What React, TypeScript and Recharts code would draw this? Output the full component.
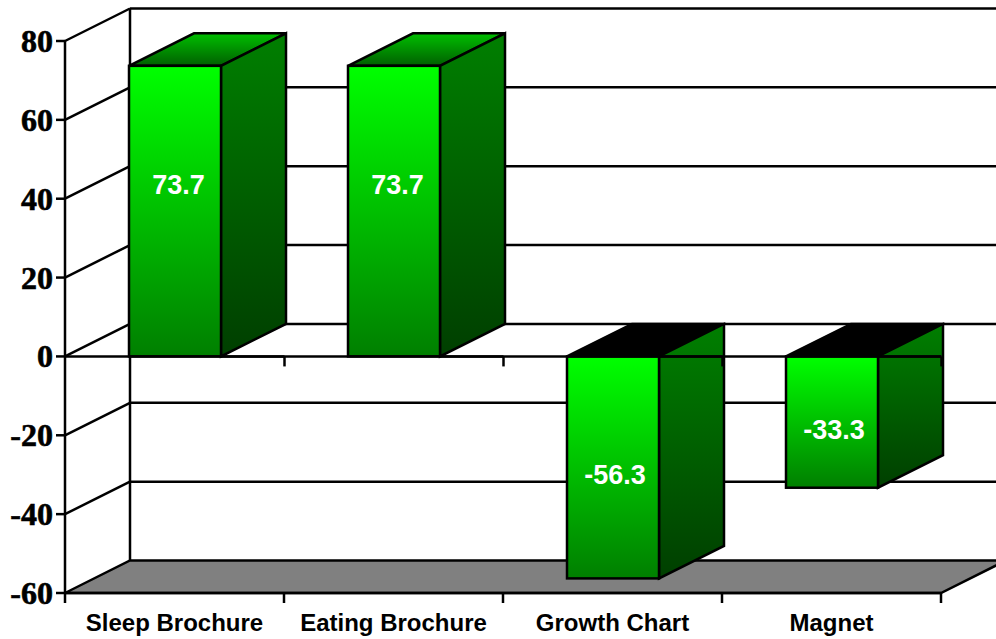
import { Bar, BarChart, CartesianGrid, XAxis, YAxis } from "recharts";

const categories = ["Sleep Brochure", "Eating Brochure", "Growth Chart", "Magnet"];
const percentChange = [73.7, 73.7, -56.3, -33.3];
const yTicks = [-60, -40, -20, 0, 20, 40, 60, 80];

const chartData = categories.map((name, i) => ({ name, value: percentChange[i] }));

const CHART_W = 996;
const CHART_H = 639;
const PLOT_LEFT = 65;
const PLOT_TOP = 41;
const PLOT_W = 876;
const PLOT_H = 552;
const BAND = PLOT_W / categories.length;
const DEPTH_X = 65;
const DEPTH_Y = 32.5;
const LINE = 2.5;

// back wall and floor, drawn from the grid so they stay behind the bars
function wallLine({ x1, y1, x2 }: any) {
  const backX = x1 + DEPTH_X;
  const backY = y1 - DEPTH_Y;
  if (y1 >= PLOT_TOP + PLOT_H - 1) {
    return (
      <g key="floor">
        <polygon
          points={`${x1},${y1} ${backX},${backY} ${x2 + DEPTH_X},${backY} ${x2},${y1}`}
          fill="#808080"
          stroke="#000"
          strokeWidth={LINE}
        />
        <line x1={backX} y1={PLOT_TOP - DEPTH_Y} x2={backX} y2={backY} stroke="#000" strokeWidth={LINE} />
      </g>
    );
  }
  return (
    <g key={y1}>
      <line x1={x1} y1={y1} x2={backX} y2={backY} stroke="#000" strokeWidth={LINE} />
      <line x1={backX} y1={backY} x2={CHART_W} y2={backY} stroke="#000" strokeWidth={LINE} />
    </g>
  );
}

function YTick({ x, y, payload }: any) {
  const v = payload.value;
  return (
    <g>
      {v === 0 && (
        <line x1={PLOT_LEFT} y1={y} x2={PLOT_LEFT + PLOT_W} y2={y} stroke="#000" strokeWidth={LINE} />
      )}
      <text
        x={x}
        y={y + 11}
        textAnchor="end"
        fontFamily="'Liberation Serif', serif"
        fontWeight="bold"
        fontSize={32}
        fill="#000"
        stroke="#000"
        strokeWidth={0.6}
      >
        {v}
      </text>
    </g>
  );
}

function XTick({ x, y, payload, index }: any) {
  const bottom = y - 9;
  const left = x - BAND / 2;
  const right = x + BAND / 2;
  return (
    <g>
      {index === 0 && <line x1={left} y1={bottom} x2={left} y2={bottom + 10} stroke="#000" strokeWidth={LINE} />}
      <line x1={right} y1={bottom} x2={right} y2={bottom + 10} stroke="#000" strokeWidth={LINE} />
      <text
        x={x}
        y={bottom + 38}
        textAnchor="middle"
        fontFamily="'Liberation Sans', sans-serif"
        fontWeight="bold"
        fontSize={24}
        fill="#000"
      >
        {payload.value}
      </text>
    </g>
  );
}

function Box3D({ x, y, width, height, value }: any) {
  const top = Math.min(y, y + height);
  const bottom = Math.max(y, y + height);
  const right = x + width;
  const negative = value < 0;
  const zero = negative ? top : bottom;
  const bandRight = x + width / 2 + BAND / 2;
  const mid = (top + bottom) / 2;
  return (
    <g>
      <polygon
        points={`${x},${top} ${x + DEPTH_X},${top - DEPTH_Y} ${right + DEPTH_X},${top - DEPTH_Y} ${right},${top}`}
        fill={negative ? "#000" : "url(#topFace)"}
        stroke="#000"
        strokeWidth={LINE}
      />
      <polygon
        points={`${right},${top} ${right + DEPTH_X},${top - DEPTH_Y} ${right + DEPTH_X},${bottom - DEPTH_Y} ${right},${bottom}`}
        fill="url(#sideFace)"
        stroke="#000"
        strokeWidth={LINE}
      />
      <line x1={right} y1={zero} x2={bandRight} y2={zero} stroke="#000" strokeWidth={LINE} />
      <line x1={bandRight} y1={zero} x2={bandRight} y2={zero + 10} stroke="#000" strokeWidth={LINE} />
      <rect x={x} y={top} width={width} height={bottom - top} fill="url(#frontFace)" stroke="#000" strokeWidth={LINE} />
      <text
        x={x + width / 2 + (negative ? 2 : 3.5)}
        y={mid + (negative ? 8 : -26) + 9}
        textAnchor="middle"
        fontFamily="'Liberation Sans', sans-serif"
        fontWeight="bold"
        fontSize={27}
        fill="#fff"
      >
        {value}
      </text>
    </g>
  );
}

export default function App() {
  return (
    <div style={{ position: "absolute", left: 0, top: 0, width: CHART_W, height: CHART_H, background: "#fff" }}>
      <BarChart
        width={CHART_W}
        height={CHART_H}
        data={chartData}
        margin={{ top: PLOT_TOP, right: CHART_W - PLOT_LEFT - PLOT_W, bottom: 0, left: 0 }}
        barCategoryGap={0}
        style={{ overflow: "hidden" }}
      >
        <defs>
          <linearGradient id="frontFace" x1="0" y1="0" x2="0" y2="1">
            <stop offset="0%" stopColor="#00ff00" />
            <stop offset="100%" stopColor="#007f00" />
          </linearGradient>
          <linearGradient id="sideFace" x1="0" y1="0" x2="0" y2="1">
            <stop offset="0%" stopColor="#007f00" />
            <stop offset="100%" stopColor="#003f00" />
          </linearGradient>
          <linearGradient id="topFace" x1="0" y1="0" x2="0" y2="1">
            <stop offset="0%" stopColor="#00bf00" />
            <stop offset="100%" stopColor="#005f00" />
          </linearGradient>
        </defs>
        <CartesianGrid vertical={false} horizontal={wallLine} horizontalValues={yTicks} />
        <YAxis
          width={PLOT_LEFT}
          domain={[-60, 80]}
          ticks={yTicks}
          interval={0}
          tick={<YTick />}
          tickSize={9}
          tickMargin={3}
          axisLine={{ stroke: "#000", strokeWidth: LINE }}
          tickLine={{ stroke: "#000", strokeWidth: LINE }}
        />
        <XAxis
          dataKey="name"
          interval={0}
          tick={<XTick />}
          tickSize={9}
          tickLine={false}
          tickMargin={0}
          height={46}
          axisLine={{ stroke: "#000", strokeWidth: LINE }}
        />
        <Bar dataKey="value" barSize={92} shape={<Box3D />} isAnimationActive={false} />
      </BarChart>
    </div>
  );
}
